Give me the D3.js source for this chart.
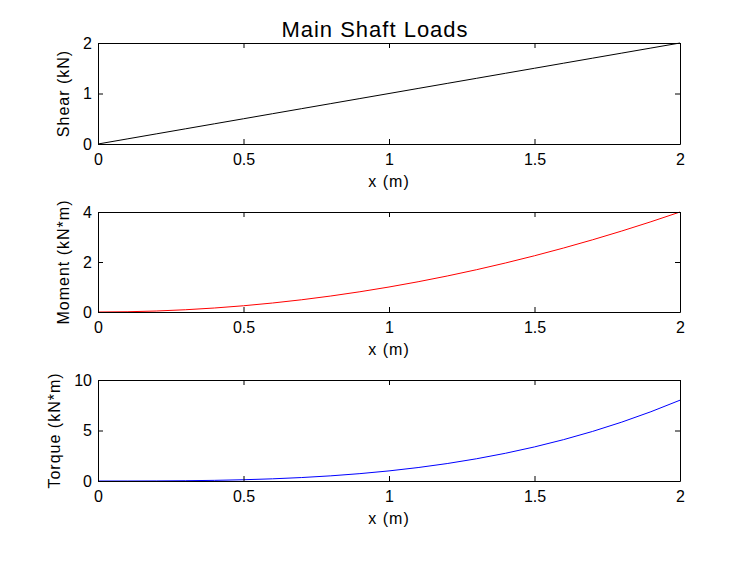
<!DOCTYPE html>
<html>
<head>
<meta charset="utf-8">
<script src="https://cdn.jsdelivr.net/npm/d3@7/dist/d3.min.js"></script>
<style>
  body { margin: 0; background: #fff; }
  svg text { font-family: "Liberation Sans", Arial, Helvetica, sans-serif; fill: #000; }
</style>
</head>
<body>
<svg id="fig" width="751" height="563"></svg>
<script>
// sampled positions along the shaft (m)
const xPos = [0, 0.1, 0.2, 0.3, 0.4, 0.5, 0.6, 0.7, 0.8, 0.9, 1.0,
              1.1, 1.2, 1.3, 1.4, 1.5, 1.6, 1.7, 1.8, 1.9, 2.0];
const shear = [0, 0.1, 0.2, 0.3, 0.4, 0.5, 0.6, 0.7, 0.8, 0.9, 1.0,
               1.1, 1.2, 1.3, 1.4, 1.5, 1.6, 1.7, 1.8, 1.9, 2.0];
const moment = [0, 0.01, 0.04, 0.09, 0.16, 0.25, 0.36, 0.49, 0.64, 0.81, 1.0,
                1.21, 1.44, 1.69, 1.96, 2.25, 2.56, 2.89, 3.24, 3.61, 4.0];
const torque = [0, 0.001, 0.008, 0.027, 0.064, 0.125, 0.216, 0.343, 0.512, 0.729, 1.0,
                1.331, 1.728, 2.197, 2.744, 3.375, 4.096, 4.913, 5.832, 6.859, 8.0];
const xTicks = [0, 0.5, 1, 1.5, 2];
const panels = [
  {label: 'Shear (kN)', values: shear, yMax: 2, yTicks: [0, 1, 2], color: '#000000', top: 43, bottom: 144},
  {label: 'Moment (kN*m)', values: moment, yMax: 4, yTicks: [0, 2, 4], color: '#ff0000', top: 212, bottom: 312},
  {label: 'Torque (kN*m)', values: torque, yMax: 10, yTicks: [0, 5, 10], color: '#0000ff', top: 380, bottom: 481}
];

const svg = d3.select('#fig');
const left = 98, right = 680, tick = 5;
const x = d3.scaleLinear().domain([0, 2]).range([left, right]);
const fmt = d => String(d);

svg.append('text')
  .attr('x', 375).attr('y', 37)
  .attr('text-anchor', 'middle')
  .style('font-size', '22px')
  .style('letter-spacing', '1px')
  .text('Main Shaft Loads');

panels.forEach(p => {
  let y = d3.scaleLinear().domain([0, p.yMax]).range([p.bottom, p.top]);
  let g = svg.append('g');

  // the curve
  g.append('path')
    .datum(xPos.map((v, i) => [v, p.values[i]]))
    .attr('fill', 'none')
    .attr('stroke', p.color)
    .attr('stroke-width', 1)
    .attr('d', d3.line().x(d => x(d[0])).y(d => y(d[1])));

  // matlab style box, ticks point inward on all four sides
  let axes = [
    d3.axisBottom(x).tickValues(xTicks).tickSizeInner(-tick).tickSizeOuter(0).tickPadding(10).tickFormat(fmt),
    d3.axisTop(x).tickValues(xTicks).tickSizeInner(-tick).tickSizeOuter(0).tickFormat(''),
    d3.axisLeft(y).tickValues(p.yTicks).tickSizeInner(-tick).tickSizeOuter(0).tickPadding(6).tickFormat(fmt),
    d3.axisRight(y).tickValues(p.yTicks).tickSizeInner(-tick).tickSizeOuter(0).tickFormat('')
  ];
  let shifts = [[0, p.bottom], [0, p.top], [left, 0], [right, 0]];
  let yTickText;
  axes.forEach((ax, i) => {
    let a = g.append('g')
      .attr('transform', 'translate(' + shifts[i][0] + ',' + shifts[i][1] + ')')
      .call(ax);
    a.selectAll('text').style('font-size', '16px').attr('fill', '#000');
    a.selectAll('line, path').attr('stroke', '#000').attr('stroke-width', 1);
    if (i === 2) yTickText = a.selectAll('text').nodes();
  });

  // y label sits left of the widest tick label
  let minLeft = d3.min(yTickText, n => n.getBoundingClientRect().left);
  g.append('text')
    .attr('transform', 'translate(' + (minLeft - 14) + ',' + ((p.top + p.bottom) / 2) + ') rotate(-90)')
    .attr('text-anchor', 'middle')
    .style('font-size', '16px')
    .style('letter-spacing', '1px')
    .text(p.label);

  g.append('text')
    .attr('x', x(1)).attr('y', p.bottom + 43)
    .attr('text-anchor', 'middle')
    .style('font-size', '16px')
    .style('letter-spacing', '1px')
    .text('x (m)');
});
</script>
</body>
</html>
